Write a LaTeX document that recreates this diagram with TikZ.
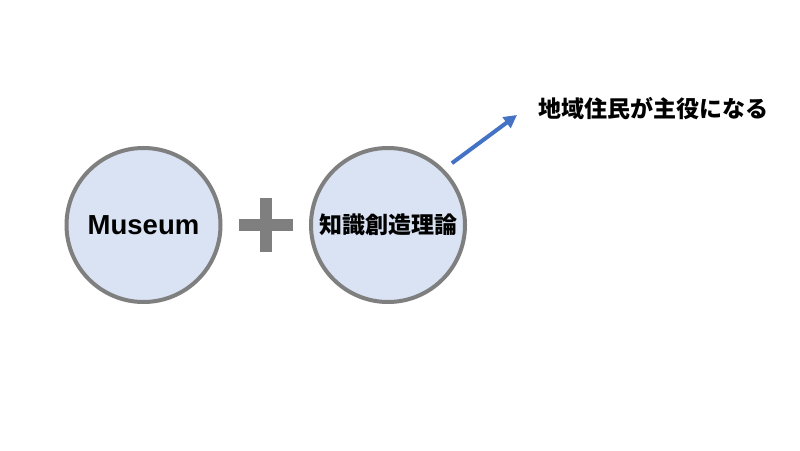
\documentclass[tikz,border=0pt]{standalone}
\usepackage{fontspec}
\setmainfont{Liberation Sans}
\newfontfamily\cjk{Noto Sans CJK JP}
\usetikzlibrary{arrows.meta,calc}
\definecolor{bubblefill}{HTML}{DAE3F3}
\definecolor{bubbleline}{HTML}{7F7F7F}
\definecolor{arrowblue}{HTML}{4472C4}
\tikzset{
  bubble/.style={circle, draw=bubbleline, line width=4pt, fill=bubblefill,
    minimum size=154pt, inner sep=0pt, font=\bfseries},
  arrowline/.style={draw=arrowblue, line width=4pt,
    -{Triangle[length=13pt,width=13pt]}},
}

\begin{document}
\begin{tikzpicture}[x=1pt,y=1pt]
		%%%%% START %%%%%
		\useasboundingbox[fill=white] (0,0) rectangle (800,450);
		
		\node[bubble] (museum) at (143.5,225) {\fontsize{27.5}{30}\selectfont Museum};
		\node[bubble] (theory) at (388,225) {\cjk\fontsize{23}{26}\selectfont 知識創造理論};
		
		\coordinate (plus) at (266,225);
		\fill[bubbleline] ($(plus)+(-27,-6)$) rectangle ($(plus)+(27,6)$);
		\fill[bubbleline] ($(plus)+(-6,-27)$) rectangle ($(plus)+(6,27)$);
		
		\node[anchor=west, inner sep=0pt] (goal) at (538,341)
		  {\cjk\bfseries\fontsize{23}{26}\selectfont 地域住民が主役になる};
		
		\draw[arrowline, shorten <=10pt] (theory.45) -- ($(goal.west)+(-21,-6)$);
		%%%%% END %%%%%
	\end{tikzpicture}
\end{document}
